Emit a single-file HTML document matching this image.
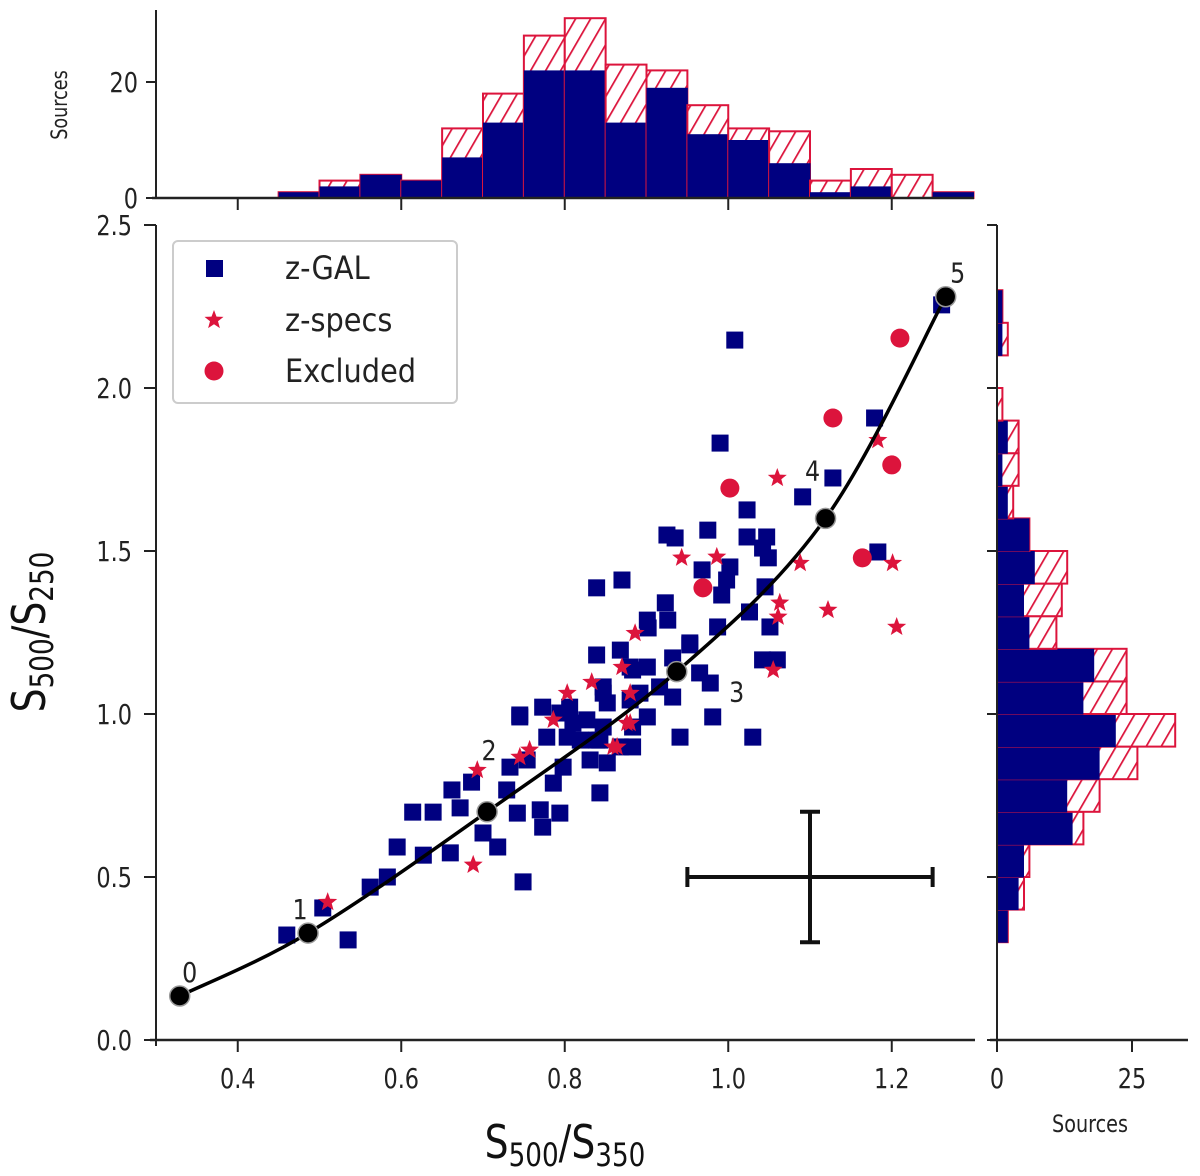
<!DOCTYPE html>
<html><head><meta charset="utf-8"><style>
html,body{margin:0;padding:0;background:#fff;}
svg{display:block;font-family:"DejaVu Sans","Liberation Sans",sans-serif;}
</style></head><body>
<svg id="chart" width="1200" height="1176" viewBox="0 0 1200 1176" xmlns="http://www.w3.org/2000/svg">
<defs>
<pattern id="hatch" patternUnits="userSpaceOnUse" width="13" height="13" patternTransform="rotate(30)">
<rect width="13" height="13" fill="#fff"/>
<line x1="0" y1="0" x2="0" y2="13" stroke="#dc143c" stroke-width="3.5"/>
</pattern>
</defs>
<g id="layer"></g>
</svg>
<script>
// ---- data ----
const xTicks = [0.4, 0.6, 0.8, 1.0, 1.2];
const xTickLabels = ["0.4", "0.6", "0.8", "1.0", "1.2"];
const yTicks = [0.0, 0.5, 1.0, 1.5, 2.0, 2.5];
const yTickLabels = ["0.0", "0.5", "1.0", "1.5", "2.0", "2.5"];
const topHistEdges0 = 0.3, topHistBin = 0.05;
const topNavy  = [0,0,0,1,2,4,3,7,13,22,22,13,19,11,10,6,1,2,0,1];
const topTotal = [0,0,0,1,3,4,3,12,18,28,31,23,22,16,12,11.5,3,5,4,1];
const topTicks = [0, 20];
const rightHistEdge0 = 0.3, rightHistBin = 0.1;
const rightNavy  = [2,4,5,14,13,19,22,16,18,6,5,7,6,2,1,2,0,0,1,1];
const rightTotal = [2,5,6,16,19,26,33,24,24,11,12,13,6,3,4,4,1,0,2,1];
const rightTicks = [0, 25];
const galX = [0.460,0.535,0.504,0.562,0.583,0.595,0.627,0.660,0.614,0.639,0.672,0.662,0.686,0.700,0.718,0.749,0.745,0.839,0.868,0.883,0.847,0.745,0.773,0.794,0.810,0.778,0.754,0.733,0.729,0.742,0.770,0.794,0.773,0.798,0.786,0.831,0.852,0.843,0.843,0.868,0.883,0.880,0.819,0.839,0.870,0.880,0.847,0.852,0.892,0.916,0.932,0.806,0.827,0.847,0.901,0.981,0.941,1.030,0.883,0.803,0.839,0.901,0.932,0.953,0.965,0.978,1.042,1.060,0.902,1.008,1.261,1.179,0.990,1.128,1.091,1.023,0.925,0.935,0.975,1.023,1.047,1.042,1.049,0.968,1.002,0.998,0.992,1.045,1.026,1.051,0.987,0.923,0.926,0.901,0.953,1.183];
const galY = [0.322,0.307,0.405,0.469,0.500,0.592,0.567,0.574,0.699,0.699,0.712,0.767,0.791,0.635,0.592,0.485,0.997,1.181,1.196,1.135,1.064,0.991,1.021,1.003,0.972,0.929,0.859,0.837,0.767,0.696,0.706,0.696,0.653,0.837,0.788,0.859,0.850,0.758,0.920,0.899,0.960,1.043,0.920,1.387,1.411,1.144,1.083,1.034,1.064,1.083,1.052,1.021,0.982,0.960,0.991,0.991,0.929,0.929,0.899,0.929,0.920,1.144,1.172,1.212,1.126,1.095,1.166,1.166,1.264,2.147,2.255,1.908,1.831,1.724,1.666,1.626,1.549,1.540,1.564,1.543,1.543,1.509,1.479,1.442,1.451,1.411,1.365,1.390,1.313,1.267,1.267,1.341,1.288,1.288,1.218,1.497];
const specX = [0.688,0.510,0.693,0.943,0.986,1.088,1.063,0.886,0.870,0.833,0.803,0.880,0.880,0.859,1.060,1.183,1.201,1.061,1.122,1.206,0.786,0.757,0.745,0.876,0.864,1.055];
const specY = [0.537,0.423,0.828,1.479,1.482,1.463,1.341,1.248,1.144,1.098,1.064,1.064,0.972,0.899,1.724,1.840,1.463,1.298,1.319,1.267,0.982,0.890,0.868,0.972,0.899,1.135];
const exclX = [1.210,1.128,1.200,1.002,1.164,0.969];
const exclY = [2.153,1.908,1.764,1.693,1.479,1.387];
const trackX = [0.329,0.486,0.705,0.937,1.119,1.266];
const trackY = [0.135,0.328,0.700,1.130,1.600,2.280];
const trackLabels = ["0","1","2","3","4","5"];
const errCenter = [1.10, 0.50];
const errHalf = [0.15, 0.20];

// ---- axes ----
const X0=0.3, X1=1.3, PX0=156, PX1=973.5;
const YPX0=1040, YPX1=225;
const sx = v => PX0 + (v - X0) / (X1 - X0) * (PX1 - PX0);
const sy = v => YPX0 - v / 2.5 * (YPX0 - YPX1);
const topBase=198, topPerUnit=5.8;
const sTop = c => topBase - c * topPerUnit;
const rBase=997, rPerUnit=5.4;
const sRight = c => rBase + c * rPerUnit;

const NS="http://www.w3.org/2000/svg";
const layer=document.getElementById('layer');
function mk(tag, attrs, parent){
  const e=document.createElementNS(NS,tag);
  for(const k in attrs) e.setAttribute(k, attrs[k]);
  (parent||layer).appendChild(e);
  return e;
}
function txt(str, x, y, size, anchor, sxScale, parent){
  const g=mk('g',{transform:`translate(${x},${y}) scale(${sxScale},1)`},parent);
  const t=mk('text',{x:0,y:0,'font-size':size,'text-anchor':anchor,fill:'#222'},g);
  t.textContent=str;
  return t;
}

// ---- top histogram ----
const gTop=mk('g',{});


topTotal.forEach((c,i)=>{
  const x0=sx(topHistEdges0+i*topHistBin), x1=sx(topHistEdges0+(i+1)*topHistBin);
  if(c>0){
    const r=mk('rect',{x:x0,y:sTop(c),width:x1-x0,height:topBase-sTop(c),fill:'url(#hatch)',stroke:'#dc143c','stroke-width':2},gTop);
    
    
  }
  const n=topNavy[i];
  if(n>0){
    const b=mk('rect',{x:x0,y:sTop(n),width:x1-x0+0.5,height:topBase-sTop(n),fill:'#000080'},gTop);
    
    
  }
});
mk('line',{x1:156,y1:10,x2:156,y2:198,stroke:'#222','stroke-width':2},gTop);
mk('line',{x1:152,y1:198,x2:974,y2:198,stroke:'#222','stroke-width':2.5},gTop);
xTicks.forEach(v=>mk('line',{x1:sx(v),y1:198,x2:sx(v),y2:210,stroke:'#222','stroke-width':2},gTop));
topTicks.forEach(v=>{
  mk('line',{x1:146,y1:sTop(v),x2:156,y2:sTop(v),stroke:'#222','stroke-width':2},gTop);
  const t=txt(String(v),138,sTop(v)+10,28,'end',0.8,gTop);
  
  
});
{const g=mk('g',{transform:'translate(67,105) rotate(-90) scale(0.8,1)'},gTop);
 const t=mk('text',{x:0,y:0,'font-size':22,'text-anchor':'middle',fill:'#222'},g);t.textContent='Sources';
 }

// ---- right histogram ----
const gR=mk('g',{});


rightTotal.forEach((c,i)=>{
  const y0=sy(rightHistEdge0+i*rightHistBin), y1=sy(rightHistEdge0+(i+1)*rightHistBin);
  if(c>0){
    const r=mk('rect',{x:rBase,y:y1,width:sRight(c)-rBase,height:y0-y1,fill:'url(#hatch)',stroke:'#dc143c','stroke-width':2},gR);
    
    
  }
  const n=rightNavy[i];
  if(n>0){
    const b=mk('rect',{x:rBase,y:y1,width:sRight(n)-rBase,height:y0-y1+0.5,fill:'#000080'},gR);
    
    
  }
});
mk('line',{x1:997,y1:225,x2:997,y2:1046,stroke:'#222','stroke-width':2},gR);
mk('line',{x1:990,y1:1040,x2:1188,y2:1040,stroke:'#222','stroke-width':2.5},gR);
yTicks.forEach(v=>mk('line',{x1:987,y1:sy(v),x2:997,y2:sy(v),stroke:'#222','stroke-width':2},gR));
rightTicks.forEach(v=>{
  mk('line',{x1:sRight(v),y1:1040,x2:sRight(v),y2:1052,stroke:'#222','stroke-width':2},gR);
  const t=txt(String(v),sRight(v),1088,28,'middle',0.8,gR);
  
  
});
{const t=txt('Sources',1090,1132,24,'middle',0.8,gR);
 }

// ---- main axes ----
const gM=mk('g',{});


mk('line',{x1:156,y1:225,x2:156,y2:1046,stroke:'#222','stroke-width':2},gM);
mk('line',{x1:150,y1:1040,x2:975,y2:1040,stroke:'#222','stroke-width':2.5},gM);
xTicks.forEach((v,i)=>{
  mk('line',{x1:sx(v),y1:1040,x2:sx(v),y2:1052,stroke:'#222','stroke-width':2},gM);
  const t=txt(xTickLabels[i],sx(v),1088,28,'middle',0.8,gM);
  
  
});
yTicks.forEach((v,i)=>{
  mk('line',{x1:144,y1:sy(v),x2:156,y2:sy(v),stroke:'#222','stroke-width':2},gM);
  const t=txt(yTickLabels[i],132,sy(v)+10,28,'end',0.8,gM);
  
  
});
{const g=mk('g',{transform:'translate(565,1158) scale(0.82,1)'},gM);
 const t=mk('text',{x:0,y:0,'font-size':46,'text-anchor':'middle',fill:'#111'},g);
 t.innerHTML='S<tspan font-size="32" dy="8">500</tspan><tspan dy="-8">/S</tspan><tspan font-size="32" dy="8">350</tspan>';
 }
{const g=mk('g',{transform:'translate(45,632) rotate(-90) scale(0.82,1)'},gM);
 const t=mk('text',{x:0,y:0,'font-size':46,'text-anchor':'middle',fill:'#111'},g);
 t.innerHTML='S<tspan font-size="32" dy="8">500</tspan><tspan dy="-8">/S</tspan><tspan font-size="32" dy="8">250</tspan>';
 }

// ---- markers ----
function starPath(cx,cy,R){
  const r=R*0.42;let d='';
  for(let k=0;k<10;k++){const a=-Math.PI/2+k*Math.PI/5;const rr=k%2?r:R;
    d+=(k?'L':'M')+(cx+rr*Math.cos(a)).toFixed(1)+' '+(cy+rr*Math.sin(a)).toFixed(1);}
  return d+'Z';
}
const gS=mk('g',{});


galX.forEach((x,i)=>{
  const r=mk('rect',{x:sx(x)-8.5,y:sy(galY[i])-8.5,width:17,height:17,fill:'#000080'},gS);
  
  
});
const gSp=mk('g',{});


specX.forEach((x,i)=>{
  const p=mk('path',{d:starPath(sx(x),sy(specY[i]),10),fill:'#dc143c'},gSp);
  
  
});
const gE=mk('g',{});


exclX.forEach((x,i)=>{
  const c=mk('circle',{cx:sx(x),cy:sy(exclY[i]),r:9.5,fill:'#dc143c'},gE);
  
  
});

// ---- track curve (Catmull-Rom) ----
const pts=trackX.map((x,i)=>[sx(x),sy(trackY[i])]);
let d='M'+pts[0][0]+' '+pts[0][1];
for(let i=0;i<pts.length-1;i++){
  const p0=pts[Math.max(0,i-1)],p1=pts[i],p2=pts[i+1],p3=pts[Math.min(pts.length-1,i+2)];
  const c1=[p1[0]+(p2[0]-p0[0])/6,p1[1]+(p2[1]-p0[1])/6];
  const c2=[p2[0]-(p3[0]-p1[0])/6,p2[1]-(p3[1]-p1[1])/6];
  d+=`C${c1[0]} ${c1[1]} ${c2[0]} ${c2[1]} ${p2[0]} ${p2[1]}`;
}
const curve=mk('path',{d:d,fill:'none',stroke:'#000','stroke-width':3.5});


const labOff=[[10,-14],[-8,-14],[2,-52],[60,30],[-13,-38],[12,-14]];
pts.forEach((p,i)=>{
  const c=mk('circle',{cx:p[0],cy:p[1],r:10,fill:'#000',stroke:'#999','stroke-width':1.5});
  
  
  const t=txt(trackLabels[i],p[0]+labOff[i][0],p[1]+labOff[i][1],28,'middle',0.85);
  
  
});

// ---- error bar ----
const gEr=mk('g',{stroke:'#111','stroke-width':4});


const ex=errCenter[0], ey=errCenter[1];
mk('line',{x1:sx(ex-errHalf[0]),y1:sy(ey),x2:sx(ex+errHalf[0]),y2:sy(ey)},gEr);
mk('line',{x1:sx(ex),y1:sy(ey-errHalf[1]),x2:sx(ex),y2:sy(ey+errHalf[1])},gEr);
mk('line',{x1:sx(ex-errHalf[0]),y1:sy(ey)-10,x2:sx(ex-errHalf[0]),y2:sy(ey)+10},gEr);
mk('line',{x1:sx(ex+errHalf[0]),y1:sy(ey)-10,x2:sx(ex+errHalf[0]),y2:sy(ey)+10},gEr);
mk('line',{x1:sx(ex)-10,y1:sy(ey-errHalf[1]),x2:sx(ex)+10,y2:sy(ey-errHalf[1])},gEr);
mk('line',{x1:sx(ex)-10,y1:sy(ey+errHalf[1]),x2:sx(ex)+10,y2:sy(ey+errHalf[1])},gEr);

// ---- legend ----
const gL=mk('g',{});


mk('rect',{x:173,y:241,width:284,height:162,rx:5,fill:'#fff',stroke:'#ccc','stroke-width':2},gL);
mk('rect',{x:206,y:260,width:17,height:17,fill:'#000080'},gL);
mk('path',{d:starPath(214,320,10),fill:'#dc143c'},gL);
mk('circle',{cx:214,cy:371,r:9.5,fill:'#dc143c'},gL);
[['z-GAL',279],['z-specs',331],['Excluded',382]].forEach(([s,y])=>{
  const t=txt(s,285,y,32,'start',0.9,gL);
  
  
});
</script>
</body></html>
